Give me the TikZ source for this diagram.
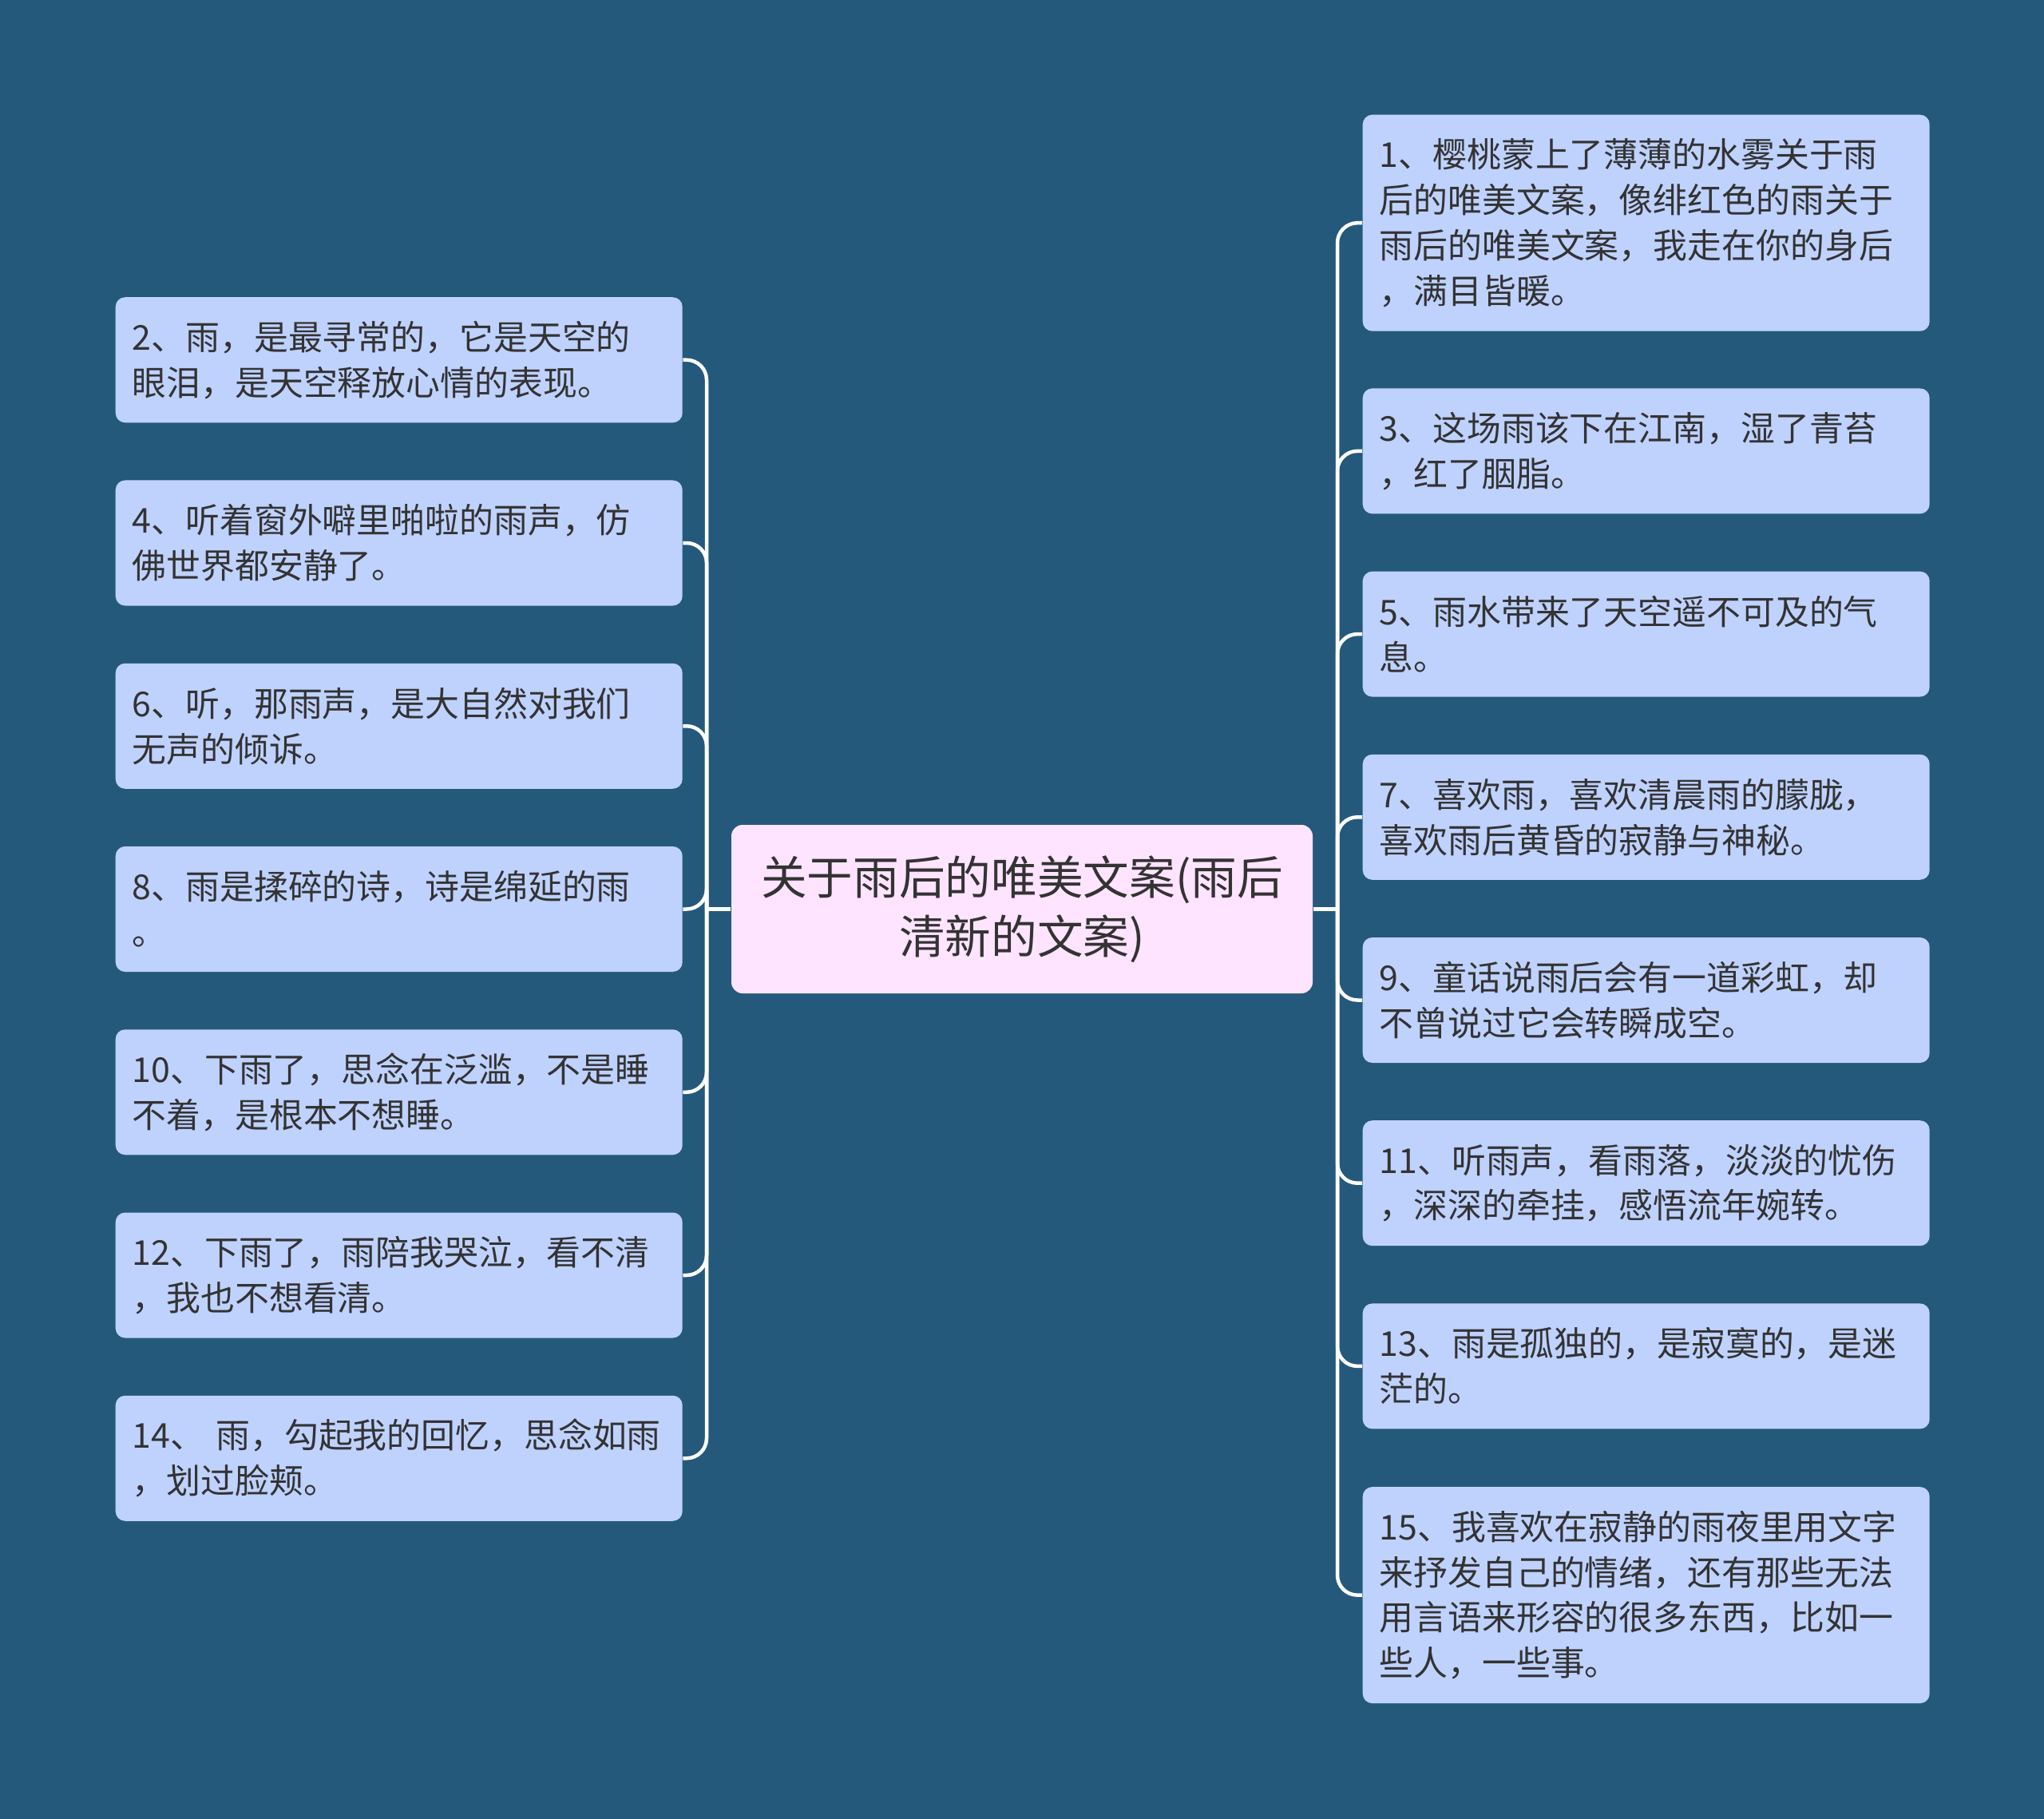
\documentclass[tikz,border=0pt]{standalone}
\usepackage{fontspec}
\setmainfont{Noto Sans CJK SC}
\usetikzlibrary{positioning, calc}
\definecolor{sfondo}{RGB}{36,89,124}
\definecolor{foglia}{RGB}{191,210,254}
\definecolor{radice}{RGB}{255,228,255}
\definecolor{testo}{RGB}{51,51,51}

\begin{document}
\begin{tikzpicture}[
    leaf/.style={fill=foglia, rounded corners=0.12cm, text=testo, align=left,
        text width=6.68cm, inner xsep=0.21cm, inner ysep=0pt, minimum height=1.57cm,
        font=\fontsize{12.2pt}{16.2pt}\selectfont},
    root/.style={fill=radice, rounded corners=0.14cm, text=testo, align=center,
        minimum width=7.28cm, minimum height=2.11cm, inner sep=0pt,
        font=\fontsize{16.4pt}{21.2pt}\selectfont},
    conn/.style={draw=white, line width=0.045cm, rounded corners=0.25cm}]
        %sfondo
        \fill[sfondo] (0,0) rectangle (25.6,-22.78);
        \useasboundingbox (0,0) rectangle (25.6,-22.78);
        %nodo centrale
        \node[root] (root) at (12.80,-11.385) {关于雨后的唯美文案(雨后\\清新的文案)};
        \coordinate (tl) at (8.85,-11.385);
        \coordinate (tr) at (16.75,-11.385);
        %rami a sinistra
        \node[leaf, anchor=west] (n2) at (1.44,-4.5075) {2、雨，是最寻常的，它是天空的\\眼泪，是天空释放心情的表现。};
        \node[leaf, anchor=west] (n4) at (1.44,-6.80) {4、听着窗外噼里啪啦的雨声，仿\\佛世界都安静了。};
        \node[leaf, anchor=west] (n6) at (1.44,-9.0925) {6、听，那雨声，是大自然对我们\\无声的倾诉。};
        \node[leaf, anchor=west] (n8) at (1.44,-11.385) {8、雨是揉碎的诗，诗是绵延的雨\\。};
        \node[leaf, anchor=west] (n10) at (1.44,-13.6775) {10、下雨了，思念在泛滥，不是睡\\不着，是根本不想睡。};
        \node[leaf, anchor=west] (n12) at (1.44,-15.97) {12、下雨了，雨陪我哭泣，看不清\\，我也不想看清。};
        \node[leaf, anchor=west] (n14) at (1.44,-18.2625) {14、 雨，勾起我的回忆，思念如雨\\，划过脸颊。};
        %rami a destra
        \node[leaf, anchor=west, minimum height=2.71cm] (n1) at (17.06,-2.792) {1、樱桃蒙上了薄薄的水雾关于雨\\后的唯美文案，像绯红色的雨关于\\雨后的唯美文案，我走在你的身后\\，满目皆暖。};
        \node[leaf, anchor=west] (n3) at (17.06,-5.649) {3、这场雨该下在江南，湿了青苔\\，红了胭脂。};
        \node[leaf, anchor=west] (n5) at (17.06,-7.941) {5、雨水带来了天空遥不可及的气\\息。};
        \node[leaf, anchor=west] (n7) at (17.06,-10.233) {7、喜欢雨，喜欢清晨雨的朦胧，\\喜欢雨后黄昏的寂静与神秘。};
        \node[leaf, anchor=west] (n9) at (17.06,-12.525) {9、童话说雨后会有一道彩虹，却\\不曾说过它会转瞬成空。};
        \node[leaf, anchor=west] (n11) at (17.06,-14.817) {11、听雨声，看雨落，淡淡的忧伤\\，深深的牵挂，感悟流年婉转。};
        \node[leaf, anchor=west] (n13) at (17.06,-17.109) {13、雨是孤独的，是寂寞的，是迷\\茫的。};
        \node[leaf, anchor=west, minimum height=2.71cm] (n15) at (17.06,-19.976) {15、我喜欢在寂静的雨夜里用文字\\来抒发自己的情绪，还有那些无法\\用言语来形容的很多东西，比如一\\些人，一些事。};
        %collegamenti
        \draw[conn] (root.west) -- (tl);
        \draw[conn] (root.east) -- (tr);
        \foreach \n in {n2,n4,n6,n8,n10,n12,n14}
            \draw[conn] (tl) |- (\n.east);
        \foreach \n in {n1,n3,n5,n7,n9,n11,n13,n15}
            \draw[conn] (tr) |- (\n.west);
    \end{tikzpicture}
\end{document}
